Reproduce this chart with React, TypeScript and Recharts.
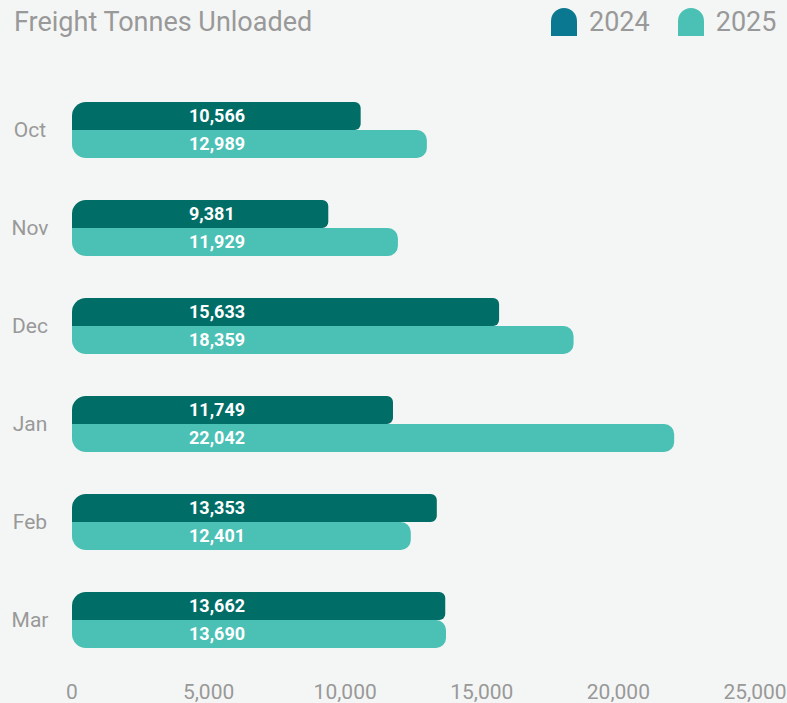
import React from 'react';
import { Bar, BarChart, XAxis, YAxis, LabelList } from 'recharts';

const months = ['Oct', 'Nov', 'Dec', 'Jan', 'Feb', 'Mar'];
const tonnes2024 = [10566, 9381, 15633, 11749, 13353, 13662];
const tonnes2025 = [12989, 11929, 18359, 22042, 12401, 13690];
const xTicks = [0, 5000, 10000, 15000, 20000, 25000];

const series = [
    { key: 'y2024', name: '2024', fill: '#006d66', legend: '#0a7890', radius: [14, 6, 6, 0] },
    { key: 'y2025', name: '2025', fill: '#4bc0b4', legend: '#4bc0b4', radius: [0, 10, 10, 14] },
];

const data = months.map((month, i) => ({
    month,
    y2024: tonnes2024[i],
    y2025: tonnes2025[i],
}));

const fmt = (v: number) => v.toLocaleString('en-US');

function MonthTick({ y, payload }: any) {
    return (
        <text x={30} y={y} dy="0.35em" textAnchor="middle" fill="#999" fontSize={21}>
            {payload.value}
        </text>
    );
}

function LegendIcon({ color }: { color: string }) {
    return (
        <svg width={26} height={28} style={{ display: 'block' }}>
            <path d="M0 28 L0 13 A13 13 0 0 1 26 13 L26 28 Z" fill={color} />
        </svg>
    );
}

export default function App() {
    return (
        <div
            style={{
                position: 'absolute',
                left: 0,
                top: 0,
                width: 787,
                height: 703,
                background: '#f4f6f5',
                fontFamily: 'Roboto, sans-serif',
            }}
        >
            <div style={{ position: 'absolute', left: 14, top: 6, fontSize: 27, color: '#999' }}>
                Freight Tonnes Unloaded
            </div>
            <div style={{ position: 'absolute', left: 551, top: 6, display: 'flex', alignItems: 'center' }}>
                {series.map((s) => (
                    <div key={s.key} style={{ display: 'flex', alignItems: 'center', marginRight: 28 }}>
                        <LegendIcon color={s.legend} />
                        <span style={{ fontSize: 27, color: '#999', marginLeft: 12 }}>{s.name}</span>
                    </div>
                ))}
            </div>
            <BarChart
                width={787}
                height={703}
                data={data}
                layout="vertical"
                margin={{ top: 81, right: 32, bottom: 0, left: 0 }}
                barCategoryGap={21}
                barGap={0}
            >
                <XAxis
                    type="number"
                    domain={[0, 25000]}
                    ticks={xTicks}
                    tickFormatter={fmt}
                    axisLine={false}
                    tickLine={false}
                    tickMargin={9}
                    height={34}
                    interval={0}
                    tick={{ fill: '#999', fontSize: 21 }}
                />
                <YAxis
                    type="category"
                    dataKey="month"
                    width={72}
                    axisLine={false}
                    tickLine={false}
                    tick={<MonthTick />}
                />
                {series.map((s) => (
                    <Bar
                        key={s.key}
                        dataKey={s.key}
                        name={s.name}
                        fill={s.fill}
                        radius={s.radius as any}
                        isAnimationActive={false}
                    >
                        <LabelList
                            dataKey={s.key}
                            position="insideLeft"
                            offset={117}
                            formatter={(v: any) => fmt(Number(v))}
                            fill="#fff"
                            fontSize={18}
                            fontWeight={700}
                        />
                    </Bar>
                ))}
            </BarChart>
        </div>
    );
}
